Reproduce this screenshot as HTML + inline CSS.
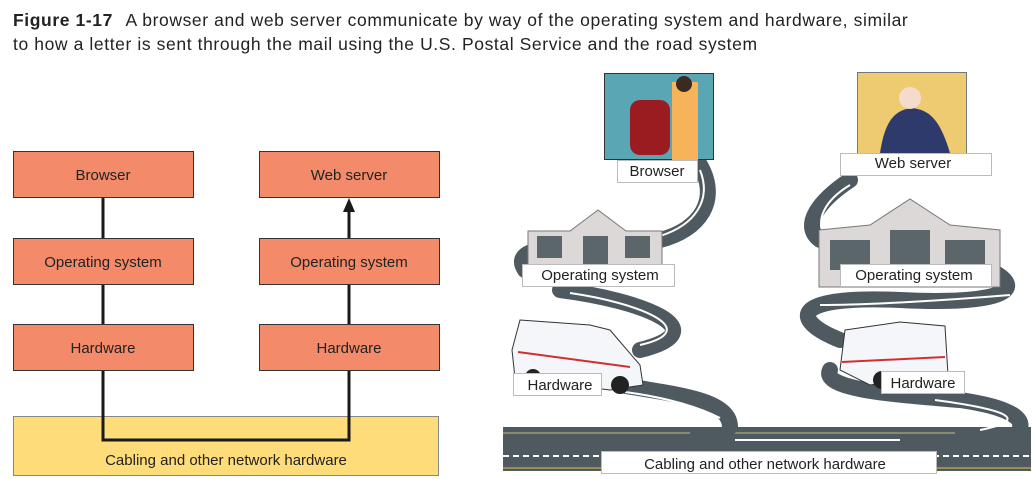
<!DOCTYPE html>
<html><head><style>
body{margin:0;width:1034px;height:479px;background:#fff;overflow:hidden;font-family:"Liberation Sans",sans-serif;}
.cap{position:absolute;left:13px;top:8px;font-size:17.5px;letter-spacing:0.6px;line-height:24px;color:#222;}
.cap b{font-weight:600;margin-right:8px}
svg{position:absolute;left:0;top:0}
</style></head><body>
<div class="cap"><b>Figure 1-17</b> A browser and web server communicate by way of the operating system and hardware, similar<br>to how a letter is sent through the mail using the U.S. Postal Service and the road system</div>
<svg width="1034" height="479" font-family="Liberation Sans, sans-serif">
<rect x="13.5" y="416.5" width="425" height="59" fill="#fddc79" stroke="#888"/>
<g fill="#f38a6a" stroke="#333" stroke-width="1">
<rect x="13.5" y="151.5" width="180" height="46"/><rect x="259.5" y="151.5" width="180" height="46"/>
<rect x="13.5" y="238.5" width="180" height="46"/><rect x="259.5" y="238.5" width="180" height="46"/>
<rect x="13.5" y="324.5" width="180" height="46"/><rect x="259.5" y="324.5" width="180" height="46"/>
</g>
<g stroke="#1a1a1a" stroke-width="3" fill="none">
<path d="M103 198V238M103 285V324M103 371V440H349V371M349 324V285M349 238V210"/>
</g>
<path d="M343 212L349 198L355 212Z" fill="#1a1a1a"/>
<g font-size="15" fill="#222" text-anchor="middle">
<text x="103" y="180">Browser</text><text x="349" y="180">Web server</text>
<text x="103" y="267">Operating system</text><text x="349" y="267">Operating system</text>
<text x="103" y="353">Hardware</text><text x="349" y="353">Hardware</text>
<text x="226" y="465">Cabling and other network hardware</text>
</g>
<rect x="503" y="427" width="528" height="44" fill="#4f5a60"/>
<line x1="503" y1="433" x2="690" y2="433" stroke="#a09a70" stroke-width="1.5"/>
<line x1="730" y1="433" x2="955" y2="433" stroke="#a09a70" stroke-width="1.5"/>
<line x1="503" y1="456" x2="1031" y2="456" stroke="#fff" stroke-width="2" stroke-dasharray="6,4"/>
<line x1="503" y1="468" x2="1031" y2="468" stroke="#e8c040" stroke-width="1"/>
<g fill="none" stroke="#4f5a60" stroke-width="16" stroke-linecap="round">
<path d="M700 165C720 200 700 230 660 240"/>
<path d="M525 270C515 255 530 250 560 245"/>
<path d="M560 290C640 300 720 330 640 350"/>
<path d="M620 385C680 395 730 400 730 427"/>
<path d="M850 180C820 200 800 225 820 240"/>
<path d="M990 270C1030 290 1000 305 900 300C790 295 790 320 840 340"/>
<path d="M830 370C820 390 900 395 960 400C1030 410 1020 427 1020 427"/>
</g>
<g fill="none" stroke="#fff" stroke-width="2">
<path d="M700 170C712 200 695 225 660 236"/><path d="M570 293C640 303 705 330 640 345"/>
<path d="M625 392C670 398 700 408 720 418"/><path d="M735 440H900"/>
<path d="M850 185C825 200 815 220 825 235"/><path d="M820 305C870 305 950 300 1010 295"/>
<path d="M935 400C1010 410 1030 420 980 430"/>
</g>
<rect x="604.5" y="73.5" width="109" height="86" fill="#5aa6b5" stroke="#333"/>
<rect x="630" y="100" width="40" height="55" rx="10" fill="#9b1c20"/>
<rect x="672" y="82" width="26" height="78" fill="#f6b35a"/>
<circle cx="684" cy="84" r="8" fill="#3a2a20"/>
<rect x="617.5" y="160.5" width="80" height="22" fill="#fff" stroke="#bbb"/>
<text x="657" y="176" font-size="15" text-anchor="middle" fill="#222">Browser</text>
<rect x="857.5" y="72.5" width="109" height="81" fill="#eecb70" stroke="#777"/>
<path d="M880 153C885 120 895 110 912 108C930 110 940 120 950 153Z" fill="#2d3a6b"/>
<circle cx="910" cy="98" r="11" fill="#f4dccc"/>
<rect x="840.5" y="153.5" width="151" height="22" fill="#fff" stroke="#bbb"/>
<text x="913" y="168" font-size="15" text-anchor="middle" fill="#222">Web server</text>
<g>
<path d="M528 231L570 231L598 210L626 231L662 231V268H528Z" fill="#ddd8d8" stroke="#777"/>
<rect x="583" y="236" width="25" height="32" fill="#5b666b"/>
<rect x="537" y="236" width="25" height="22" fill="#5b666b"/><rect x="625" y="236" width="25" height="22" fill="#5b666b"/>
<path d="M819 230L870 225L910 199L950 225L1000 230V287H819Z" fill="#ddd8d8" stroke="#777"/>
<rect x="890" y="230" width="40" height="45" fill="#5b666b"/>
<rect x="830" y="240" width="40" height="30" fill="#5b666b"/><rect x="945" y="240" width="40" height="30" fill="#5b666b"/>
</g>
<rect x="522.5" y="264.5" width="152" height="22" fill="#fff" stroke="#bbb"/>
<text x="600" y="280" font-size="15" text-anchor="middle" fill="#222">Operating system</text>
<rect x="840.5" y="264.5" width="151" height="22" fill="#fff" stroke="#bbb"/>
<text x="914" y="280" font-size="15" text-anchor="middle" fill="#222">Operating system</text>
<path d="M520 320L590 325L610 330L640 365L643 385L610 390L515 378L512 350Z" fill="#f4f6fa" stroke="#333"/>
<line x1="518" y1="352" x2="630" y2="367" stroke="#d03030" stroke-width="2"/>
<circle cx="533" cy="377" r="8" fill="#222"/><circle cx="620" cy="385" r="9" fill="#222"/>
<path d="M845 330L900 322L945 326L948 375L870 385L840 370Z" fill="#f4f6fa" stroke="#333"/>
<line x1="842" y1="362" x2="945" y2="357" stroke="#d03030" stroke-width="2"/>
<circle cx="882" cy="380" r="9" fill="#222"/>
<rect x="513.5" y="373.5" width="88" height="22" fill="#fff" stroke="#bbb"/>
<text x="560" y="390" font-size="15" text-anchor="middle" fill="#222">Hardware</text>
<rect x="881.5" y="371.5" width="83" height="22" fill="#fff" stroke="#bbb"/>
<text x="923" y="388" font-size="15" text-anchor="middle" fill="#222">Hardware</text>
<rect x="601.5" y="451.5" width="335" height="22" fill="#fff" stroke="#bbb"/>
<text x="765" y="469" font-size="15" text-anchor="middle" fill="#222">Cabling and other network hardware</text>
</svg>
</body></html>
